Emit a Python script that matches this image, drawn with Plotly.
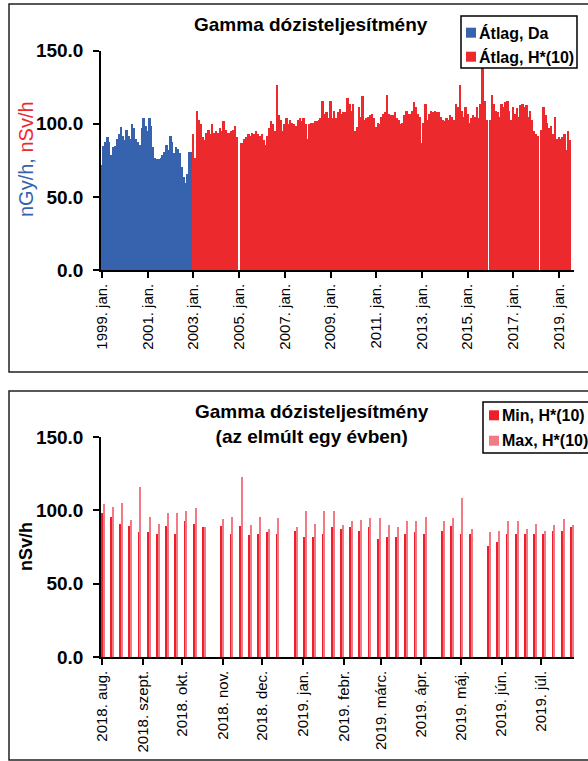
import pandas as pd
import plotly.graph_objects as go

# ---------------- data ----------------
# Top chart: monthly averages
blue_start = "1999-01-01"
blue_da = [72, 85, 88, 91, 88, 79, 84, 85, 90, 93, 98, 92,
           89, 96, 92, 90, 100, 97, 90, 88, 86, 97, 104, 99,
           95, 104, 99, 84, 77, 76, 76, 77, 79, 81, 86, 82,
           92, 88, 80, 84, 83, 80, 71, 64, 60, 66, 81, 81]

red_start = "2003-01-01"
red_h10 = [93, 77, 109, 103, 100, 91, 89, 94, 96, 93, 100, 94,
           95, 94, 97, 95, 102, 96, 94, 94, 95, 96, 99, 91,
           None, 87, 87, 90, 91, 93, 92, 94, 93, 95, 93, 92,
           93, 89, 86, 92, 97, 102, 100, 95, 127, 106, 103, 95,
           100, 104, 100, 103, 101, 100, 99, 103, 104, 102, 104, 100,
           90, 100, 101, 101, 102, 102, 103, 104, 116, 107, 108, 104,
           116, 104, 109, 104, 108, 110, 107, 108, 108, 118, 114, 109,
           114, 95, 98, 112, 105, 119, 103, 104, 105, 106, 107, 104,
           98, 101, 100, 105, 107, 108, 120, 107, 106, 106, 108, 104,
           103, 100, 101, 106, 109, 107, 107, 109, 115, 112, 107, 105,
           87, 101, 114, 103, 107, 109, 108, 109, 108, 108, 105, 103,
           102, 104, 103, 106, 105, 103, 114, 112, 127, 109, 105, 112,
           107, 101, 104, 106, 105, 112, 104, 114, 139, 116, 103, None,
           103, 120, 114, 109, 108, 105, 114, 112, 115, 116, 109, 103,
           112, 107, 111, 105, 113, 114, 112, 113, 105, 109, 103, 95,
           93, 92, None, 96, 112, 106, 101, 97, 99, 93, 105, 90,
           91, 90, 91, 93, 82, 95, 89]

top_tick_dates = ["1999-01-01", "2001-01-01", "2003-01-01", "2005-01-01", "2007-01-01",
                  "2009-01-01", "2011-01-01", "2013-01-01", "2015-01-01", "2017-01-01",
                  "2019-01-01"]
top_tick_text = ["1999. jan.", "2001. jan.", "2003. jan.", "2005. jan.", "2007. jan.",
                 "2009. jan.", "2011. jan.", "2013. jan.", "2015. jan.", "2017. jan.",
                 "2019. jan."]

# Bottom chart: weekly min / max during the last year
week_start = "2018-08-01"
min_h10 = [98, 95.7, 90.9, 89.3, 85.2, 85.2, 84.1, 89.3, 84.1, 92.7, 90.9, 88.4,
           None, 89.3, 84.1, 89.3, 83.4, 84.1, 85.2, 84.1, None, 85.7, 81.6, 81.8,
           83.6, 88.4, 87.3, 88.4, 86.1, 88.4, 80.7, 81.8, 81.8, 84.1, 85.2, 84.1,
           None, 85.7, 89.3, 84.1, 83.6, None, 75.9, 78.4, 84.1, 84.1, 83.6, 84.1,
           83.6, 86.1, 86.1, 88.4]
max_h10 = [104.1, 102.5, 105.2, 93.4, 115.7, 95.2, 90.9, 98.2, 98.2, 99.3, 101.6, 88.6,
           None, 94.1, 95.7, 122.5, 90.0, 95.7, 87.3, 95.0, None, 88.4, 99.3, 90.9,
           99.8, 99.8, 90.0, 92.5, 93.4, 95.0, 95.0, 90.0, 88.4, 92.5, 92.5, 95.7,
           None, 92.5, 95.0, 108.2, 87.3, None, 85.5, 85.7, 92.5, 92.5, 87.3, 90.9,
           85.7, 90.0, 94.1, 90.0]

bottom_tick_dates = ["2018-08-01", "2018-09-01", "2018-10-01", "2018-11-01", "2018-12-01",
                     "2019-01-01", "2019-02-01", "2019-03-01", "2019-04-01", "2019-05-01",
                     "2019-06-01", "2019-07-01"]
bottom_tick_text = ["2018. aug.", "2018. szept.", "2018. okt.", "2018. nov.", "2018. dec.",
                    "2019. jan.", "2019. febr.", "2019. márc.", "2019. ápr.", "2019. máj.",
                    "2019. jún.", "2019. júl."]

series_names_top = ["Átlag, Da", "Átlag, H*(10)"]
series_names_bottom = ["Min, H*(10)", "Max, H*(10)"]

# ---------------- figure ----------------
W, H = 588, 761
DAY = 86400000
FONT = "Liberation Sans, Arial, sans-serif"
BLUE = "#3763AE"
RED = "#EC2A2E"
MINC = "#EE1F2B"
MAXC = "#F27A84"


def px_x(p):
    return p / W


def px_y(p):
    return 1 - p / H


blue_x = pd.date_range(blue_start, periods=len(blue_da), freq="MS")
red_x = pd.date_range(red_start, periods=len(red_h10), freq="MS")
week_x = pd.date_range(week_start, periods=len(min_h10), freq="7D")

fig = go.Figure()
fig.add_trace(go.Bar(x=blue_x, y=blue_da, name=series_names_top[0], marker=dict(color=BLUE, line_width=0),
                     width=31 * DAY, xaxis="x", yaxis="y"))
fig.add_trace(go.Bar(x=red_x, y=red_h10, name=series_names_top[1], marker=dict(color=RED, line_width=0),
                     width=31 * DAY, xaxis="x", yaxis="y"))
fig.add_trace(go.Bar(x=week_x, y=min_h10, name=series_names_bottom[0], marker=dict(color=MINC, line_width=0),
                     width=1.3 * DAY, offset=-0.6 * DAY, xaxis="x2", yaxis="y2"))
fig.add_trace(go.Bar(x=week_x, y=max_h10, name=series_names_bottom[1], marker=dict(color=MAXC, line_width=0),
                     width=1.0 * DAY, offset=0.8 * DAY, xaxis="x2", yaxis="y2"))

xdom = [px_x(101), px_x(574)]
top_dom = [px_y(270), px_y(50.7)]
bot_dom = [px_y(657), px_y(437)]

px_per_day_top = (559 - 102) / 7305.0
top_start = pd.Timestamp("1999-01-01") - pd.Timedelta(days=(102 - 101) / px_per_day_top)
top_end = top_start + pd.Timedelta(days=(574 - 101) / px_per_day_top)

px_per_day_bot = (541 - 102) / 334.0
bot_start = pd.Timestamp("2018-08-01") - pd.Timedelta(days=(102 - 101) / px_per_day_bot)
bot_end = bot_start + pd.Timedelta(days=(574 - 101) / px_per_day_bot)

axis_common = dict(showline=True, linecolor="black", linewidth=1.5, ticks="outside",
                   ticklen=6, tickwidth=1.5, tickcolor="black", showgrid=False, zeroline=False,
                   automargin=False)

fig.update_layout(
    width=W, height=H,
    margin=dict(l=0, r=0, t=0, b=0, autoexpand=False),
    paper_bgcolor="white", plot_bgcolor="white",
    barmode="overlay", bargap=0,
    showlegend=False,
    font=dict(family=FONT, color="black"),
    xaxis=dict(domain=xdom, anchor="y", type="date", range=[top_start, top_end],
               tickvals=top_tick_dates, ticktext=top_tick_text, tickangle=-90,
               tickfont=dict(size=15, family=FONT), **axis_common),
    yaxis=dict(domain=top_dom, anchor="x", range=[0, 150], tickvals=[0, 50, 100, 150],
               tickformat=".1f", tickfont=dict(size=19, family=FONT, weight="bold"),
               ticklabelstandoff=6, **axis_common),
    xaxis2=dict(domain=xdom, anchor="y2", type="date", range=[bot_start, bot_end],
                tickvals=bottom_tick_dates, ticktext=bottom_tick_text, tickangle=-90,
                tickfont=dict(size=15, family=FONT), **axis_common),
    yaxis2=dict(domain=bot_dom, anchor="x2", range=[0, 150], tickvals=[0, 50, 100, 150],
                tickformat=".1f", tickfont=dict(size=19, family=FONT, weight="bold"),
                ticklabelstandoff=6, **axis_common),
)

# titles
fig.add_annotation(xref="paper", yref="paper", x=px_x(311), y=px_y(25), xanchor="center", yanchor="middle",
                   text="<b>Gamma dózisteljesítmény</b>", showarrow=False,
                   font=dict(size=19, family=FONT, color="black"))
fig.add_annotation(xref="paper", yref="paper", x=px_x(312), y=px_y(424), xanchor="center", yanchor="middle",
                   text="<b>Gamma dózisteljesítmény<br>(az elmúlt egy évben)</b>", showarrow=False,
                   font=dict(size=19, family=FONT, color="black"))
# axis titles
fig.add_annotation(xref="paper", yref="paper", x=px_x(26), y=px_y(159), textangle=-90,
                   xanchor="center", yanchor="middle",
                   text="<span style='color:%s'>nGy/h,</span> <span style='color:%s'>nSv/h</span>" % (BLUE, RED),
                   showarrow=False, font=dict(size=20, family=FONT))
fig.add_annotation(xref="paper", yref="paper", x=px_x(26), y=px_y(547), textangle=-90,
                   xanchor="center", yanchor="middle",
                   text="<b>nSv/h</b>", showarrow=False, font=dict(size=18, family=FONT, color="black"))

# panel frames
fig.add_shape(type="rect", xref="paper", yref="paper", x0=px_x(9), x1=1.02, y0=px_y(372), y1=px_y(4),
              line=dict(color="#222", width=1.5), layer="below")
fig.add_shape(type="rect", xref="paper", yref="paper", x0=px_x(9), x1=1.02, y0=px_y(760), y1=px_y(391),
              line=dict(color="#222", width=1.5), layer="below")


# legends (box, colour keys, labels)
def legend_box(x0, y0, x1, y1, items):
    fig.add_shape(type="rect", xref="paper", yref="paper", x0=px_x(x0), x1=px_x(x1),
                  y0=px_y(y1), y1=px_y(y0), line=dict(color="black", width=1.5), fillcolor="white",
                  layer="above")
    for (sx, sy, color, label) in items:
        fig.add_shape(type="rect", xref="paper", yref="paper", x0=px_x(sx - 5), x1=px_x(sx + 5),
                      y0=px_y(sy + 5), y1=px_y(sy - 5), line=dict(width=0), fillcolor=color, layer="above")
        fig.add_annotation(xref="paper", yref="paper", x=px_x(sx + 6), y=px_y(sy), xanchor="left",
                           yanchor="middle", text="<b>%s</b>" % label, showarrow=False,
                           font=dict(size=16, family=FONT, color="black"))


legend_box(461, 16, 577, 68, [(471, 32.7, BLUE, series_names_top[0]),
                              (471, 56.7, RED, series_names_top[1])])
legend_box(483, 402, 600, 453, [(494, 415.3, MINC, series_names_bottom[0]),
                                (494, 440.7, MAXC, series_names_bottom[1])])

fig.write_html("out.html")
